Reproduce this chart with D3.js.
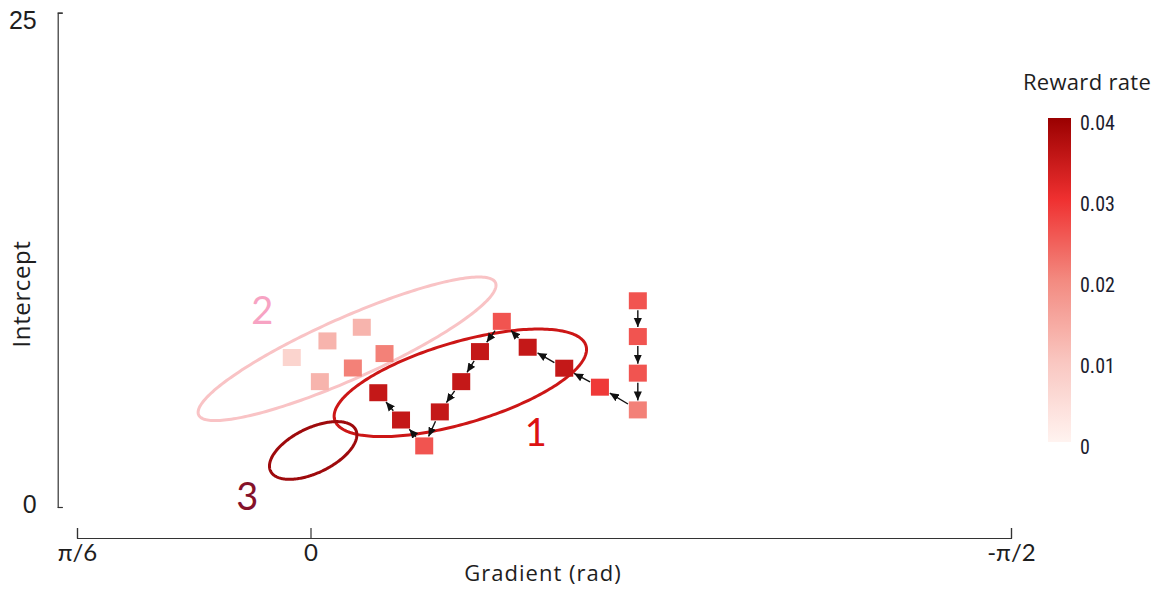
<!DOCTYPE html>
<html>
<head>
<meta charset="utf-8">
<script src="https://cdn.jsdelivr.net/npm/d3@7"></script>
<style>
  html, body { margin: 0; padding: 0; background: #fff; }
  svg { display: block; }
</style>
</head>
<body>
<svg id="chart" width="1161" height="590"></svg>
<script>
// ---- data ----------------------------------------------------------------
// Learning trajectory (in visiting order): gradient (rad), intercept, reward rate
const trajGradient  = [-0.734, -0.734, -0.734, -0.734, -0.649, -0.569, -0.487, -0.429, -0.380, -0.338, -0.290, -0.255, -0.203, -0.152];
const trajIntercept = [10.43, 8.62, 6.77, 4.91, 6.06, 7.02, 8.08, 9.39, 7.86, 6.34, 4.81, 3.09, 4.40, 5.78];
const trajReward    = [0.026, 0.026, 0.026, 0.021, 0.029, 0.035, 0.035, 0.026, 0.035, 0.035, 0.035, 0.026, 0.035, 0.035];

// Samples belonging to cluster 2
const sampleGradient  = [0.042, -0.038, -0.115, -0.166, -0.095, -0.021];
const sampleIntercept = [7.56, 8.40, 9.09, 7.76, 7.03, 6.34];
const sampleReward    = [0.007, 0.013, 0.013, 0.021, 0.021, 0.013];

// Clusters: mean, spread (1 sd) and correlation of (gradient, intercept)
const clusterIds      = ["1", "2", "3"];
const clusterMean     = [[-0.336, 6.28], [-0.082, 8.00], [-0.006, 2.86]];
const clusterSpread   = [[0.283, 2.72], [0.334, 3.63], [0.098, 1.46]];
const clusterCorr     = [-0.62, -0.885, -0.54];
const clusterLabelAt  = [[-0.505, 3.77], [0.108, 9.93], [0.142, 0.56]];

// Axis ticks
const xTickValues = [Math.PI / 6, 0, -Math.PI / 2];
const xTickLabels = ["π/6", "0", "-π/2"];
const yTickValues = [0, 25];
const cbTickValues = [0, 0.01, 0.02, 0.03, 0.04];

// ---- styles --------------------------------------------------------------
const clusterStroke = { "1": "#cc1616", "2": "#f9c3c5", "3": "#9e0a0c" };
const clusterText   = { "1": "#dc1212", "2": "#f7a3c3", "3": "#85122a" };
const boxW = 18, boxH = 17;
const uiFont = "'Open Sans', Lato, sans-serif";

// ---- scales --------------------------------------------------------------
const svg = d3.select("#chart");
const x = d3.scaleLinear().domain([Math.PI / 6, -Math.PI / 2]).range([77, 1011]);
const y = d3.scaleLinear().domain([0, 25]).range([507, 12.7]);

const color = d3.scaleLinear()
  .domain([0, 0.01, 0.02, 0.03, 0.04])
  .range(["#fff3f0", "#f9c6c0", "#f38a80", "#ef3030", "#9a0000"])
  .clamp(true);

// ---- axes ----------------------------------------------------------------
const yAxis = d3.axisLeft(y).tickValues(yTickValues).tickSize(-5).tickSizeOuter(-5).tickPadding(21);
const gy = svg.append("g").attr("transform", "translate(57.7,0)").call(yAxis);
gy.select(".domain").attr("stroke", "#333").attr("stroke-width", 1.2);
gy.selectAll(".tick line").attr("stroke", "#333").attr("stroke-width", 1.2);
gy.selectAll(".tick text")
  .attr("font-family", "'Liberation Sans', Arial, sans-serif")
  .attr("font-size", 25).attr("fill", "#1e1e1e")
  .attr("dy", d => d === 25 ? "0.62em" : "0.22em");

const xAxis = d3.axisBottom(x).tickValues(xTickValues)
  .tickFormat((d, i) => xTickLabels[i]).tickSize(-10).tickSizeOuter(-10).tickPadding(6);
const gx = svg.append("g").attr("transform", "translate(0,538)").call(xAxis);
gx.select(".domain").attr("stroke", "#333").attr("stroke-width", 1.2);
gx.selectAll(".tick line").attr("stroke", "#333").attr("stroke-width", 1.2);
gx.selectAll(".tick text")
  .attr("font-family", "Lato, 'Open Sans', sans-serif")
  .attr("font-size", 24).attr("fill", "#1e1e1e");

svg.append("text")
  .attr("x", 543).attr("y", 581)
  .attr("text-anchor", "middle")
  .attr("font-family", uiFont)
  .attr("font-size", 22).attr("letter-spacing", "1px").attr("fill", "#1e1e1e")
  .text("Gradient (rad)");

svg.append("text")
  .attr("transform", "translate(30,294) rotate(-90)")
  .attr("text-anchor", "middle")
  .attr("font-family", uiFont)
  .attr("font-size", 24).attr("letter-spacing", "0.6px").attr("fill", "#1e1e1e")
  .text("Intercept");

// ---- cluster ellipses ----------------------------------------------------
const ellipseLine = d3.line().x(d => x(d[0])).y(d => y(d[1])).curve(d3.curveLinearClosed);
const angles = d3.range(0, 2 * Math.PI, Math.PI / 120);

clusterIds.forEach((id, i) => {
  const [mg, mc] = clusterMean[i];
  const [sg, sc] = clusterSpread[i];
  const r = clusterCorr[i];
  const pts = angles.map(t => [
    mg + sg * Math.cos(t),
    mc + sc * (r * Math.cos(t) + Math.sqrt(1 - r * r) * Math.sin(t))
  ]);
  svg.append("path")
    .attr("d", ellipseLine(pts))
    .attr("fill", "none")
    .attr("stroke", clusterStroke[id])
    .attr("stroke-width", 3);
});

// ---- cluster 2 samples ---------------------------------------------------
svg.append("g").selectAll("rect")
  .data(sampleGradient.map((g, i) => ({ g, c: sampleIntercept[i], r: sampleReward[i] })))
  .join("rect")
  .attr("x", d => x(d.g) - boxW / 2)
  .attr("y", d => y(d.c) - boxH / 2)
  .attr("width", boxW).attr("height", boxH)
  .attr("fill", d => color(d.r));

// ---- trajectory ----------------------------------------------------------
const traj = trajGradient.map((g, i) => ({ g, c: trajIntercept[i], r: trajReward[i] }));

svg.append("defs").append("marker")
  .attr("id", "head")
  .attr("viewBox", "0 0 10 10")
  .attr("refX", 10).attr("refY", 5)
  .attr("markerWidth", 9).attr("markerHeight", 9)
  .attr("markerUnits", "userSpaceOnUse")
  .attr("orient", "auto")
  .append("path").attr("d", "M0,0.5 L10,5 L0,9.5 Z").attr("fill", "#111");

// distance from a box centre to its edge along direction (ux, uy)
const edgeDist = (ux, uy) => Math.min(
  Math.abs(ux) > 1e-9 ? (boxW / 2) / Math.abs(ux) : Infinity,
  Math.abs(uy) > 1e-9 ? (boxH / 2) / Math.abs(uy) : Infinity);

const steps = d3.pairs(traj).map(([a, b]) => {
  const x0 = x(a.g), y0 = y(a.c), x1 = x(b.g), y1 = y(b.c);
  const len = Math.hypot(x1 - x0, y1 - y0);
  const ux = (x1 - x0) / len, uy = (y1 - y0) / len;
  const e = edgeDist(ux, uy);
  return { x0: x0 + ux * (e + 1), y0: y0 + uy * (e + 1), x1: x1 - ux * (e + 1), y1: y1 - uy * (e + 1) };
});

svg.append("g").selectAll("line")
  .data(steps)
  .join("line")
  .attr("x1", d => d.x0).attr("y1", d => d.y0)
  .attr("x2", d => d.x1).attr("y2", d => d.y1)
  .attr("stroke", "#111").attr("stroke-width", 1.4)
  .attr("marker-end", "url(#head)");

svg.append("g").selectAll("rect")
  .data(traj)
  .join("rect")
  .attr("x", d => x(d.g) - boxW / 2)
  .attr("y", d => y(d.c) - boxH / 2)
  .attr("width", boxW).attr("height", boxH)
  .attr("fill", d => color(d.r));

// ---- cluster labels ------------------------------------------------------
svg.append("g").selectAll("text")
  .data(clusterIds)
  .join("text")
  .attr("x", (d, i) => x(clusterLabelAt[i][0]))
  .attr("y", (d, i) => y(clusterLabelAt[i][1]))
  .attr("dy", "0.36em")
  .attr("text-anchor", "middle")
  .attr("font-family", "Lato, 'Open Sans', sans-serif")
  .attr("font-size", 38)
  .attr("fill", d => clusterText[d])
  .text(d => d);

// ---- colour bar ----------------------------------------------------------
const cb = d3.scaleLinear().domain([0, 0.04]).range([442, 118]);
const grad = svg.select("defs").append("linearGradient")
  .attr("id", "cbar").attr("x1", 0).attr("y1", 1).attr("x2", 0).attr("y2", 0);
grad.selectAll("stop")
  .data(d3.range(0, 1.0001, 0.05))
  .join("stop")
  .attr("offset", d => d)
  .attr("stop-color", d => color(d * 0.04));

svg.append("rect")
  .attr("x", 1048).attr("y", cb(0.04))
  .attr("width", 23).attr("height", cb(0) - cb(0.04))
  .attr("fill", "url(#cbar)");

const cbAxis = d3.axisRight(cb).tickValues(cbTickValues)
  .tickFormat(d => d === 0 ? "0" : d.toFixed(2)).tickSize(0).tickPadding(9);
const gcb = svg.append("g").attr("transform", "translate(1071,0)").call(cbAxis);
gcb.select(".domain").remove();
gcb.selectAll(".tick text")
  .attr("font-family", "'Liberation Sans Narrow', 'Roboto Condensed', 'Liberation Sans', sans-serif")
  .attr("font-size", 20).attr("fill", "#1c1c2e")
  .attr("dy", "0.55em");

svg.append("text")
  .attr("x", 1087).attr("y", 90)
  .attr("text-anchor", "middle")
  .attr("font-family", uiFont)
  .attr("font-size", 22).attr("letter-spacing", "0.3px").attr("fill", "#1e1e1e")
  .text("Reward rate");
</script>
</body>
</html>
